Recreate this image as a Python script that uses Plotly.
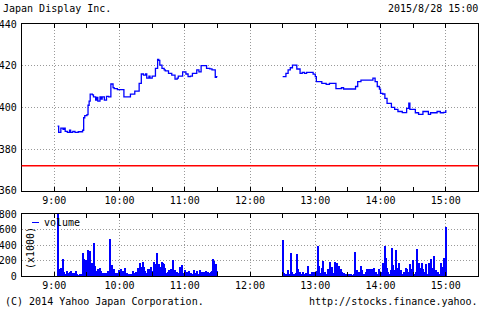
import plotly.graph_objects as go
import pandas as pd

DAY = "2015-08-28 "

# ---- price (step line), morning and afternoon sessions ----
am_times = ["09:03","09:04","09:06","09:08","09:09","09:10","09:12","09:14","09:15","09:17","09:19","09:22",
            "09:26","09:27","09:28","09:30","09:31","09:32","09:33","09:35","09:36","09:38","09:39","09:40",
            "09:42","09:43","09:44","09:46","09:48","09:50","09:52","09:54","09:55","09:58","10:04","10:10",
            "10:14","10:18","10:20","10:22","10:24","10:25","10:27","10:28","10:30","10:31","10:33","10:35",
            "10:36","10:37","10:39","10:41","10:42","10:45","10:48","10:51","10:53","10:54","10:58","11:00",
            "11:01","11:03","11:05","11:07","11:11","11:13","11:15","11:18","11:20","11:23","11:25","11:28",
            "11:29","11:30"]
am_price = [391,388,390,389.5,390,388.5,388,389,388,388.5,388,388.3,
            389,395,396,396.5,401,403,406.3,406,405,403.5,404.8,403,
            405,404,405,403.5,405.3,405,411.2,409.5,409,408.5,405,406.3,
            407.8,411.5,416,415.5,416,414,415,414,415,415,418.7,423,
            422.5,420.3,418.7,418,417.5,416.3,415.5,413.5,414,415,417,417,
            416,414.7,415,416.3,418,417,420,420,418.7,418.5,418,414.4,
            414.7,414.7]
pm_times = ["12:30","12:33","12:35","12:37","12:39","12:41","12:43","12:46","12:48","12:50","12:52","12:56",
            "12:58","13:00","13:01","13:04","13:06","13:10","13:13","13:17","13:19","13:24","13:26","13:34",
            "13:37","13:39","13:42","13:50","13:53","13:55","13:57","13:59","14:00","14:02","14:04","14:06",
            "14:10","14:13","14:16","14:20","14:24","14:26","14:27","14:32","14:35","14:39","14:44","14:46",
            "14:49","14:52","14:55","14:58","15:00"]
pm_price = [414.7,416.3,418,419,420.3,420.3,418.4,416.3,416.8,416.3,416.8,416.8,
            415.9,414.7,412.3,412.3,411.5,411,411.5,411.5,409,409.4,408.8,408.8,
            410,412.3,413.1,413.1,414,412.3,410,408.7,406.7,406.4,404.3,401.9,
            400,399,398,397.5,399.5,402,399,397.4,396.6,398,396.6,397.4,
            397.4,398,397.4,397.6,398.7]
prev_close = 372

# ---- volume (x1000) per minute ----
am_vol = [0,0,0,820,60,86,99,40,215,56,30,64,45,20,50,60,30,45,35,20,
          64,30,10,15,10,20,300,220,120,206,60,335,163,327,170,90,421,130,40,60,
          90,40,99,60,45,35,25,40,20,64,30,473,40,140,60,95,40,45,20,75,
          35,85,50,60,30,99,20,45,15,30,10,20,64,30,40,50,20,99,60,172,
          120,185,120,60,40,35,85,20,85,110,60,185,140,160,292,100,160,120,60,185,
          170,160,99,40,55,75,30,95,60,206,40,75,30,50,40,120,25,140,40,15,
          75,30,50,20,64,40,20,15,75,30,40,64,20,15,75,30,50,55,20,64,
          25,50,30,40,55,60,215,190,150,60]
pm_vol = [464,43,20,15,30,77,25,301,56,20,30,15,40,284,86,30,56,20,52,15,
          10,43,20,129,15,10,20,52,15,56,30,60,387,129,40,30,99,198,20,52,
          15,86,30,185,40,120,20,43,176,60,163,99,129,86,56,20,35,10,15,22,
          10,26,15,26,10,20,314,30,77,15,56,20,129,77,20,15,56,86,30,86,
          86,20,86,30,99,56,52,20,86,30,52,40,163,60,387,228,99,56,30,77,
          357,142,77,30,335,40,99,172,30,77,20,56,30,99,86,20,56,155,30,86,
          206,20,56,344,40,163,99,30,163,86,20,56,155,30,172,86,215,30,99,258,
          20,77,43,56,20,163,120,86,228,56,636]

x_ticks = ["09:00","10:00","11:00","12:00","13:00","14:00","15:00"]
x_tick_labels = ["9:00","10:00","11:00","12:00","13:00","14:00","15:00"]

price_x = [DAY + t for t in am_times] + [DAY + "12:00"] + [DAY + t for t in pm_times]
price_y = am_price + [None] + pm_price

vol_x = list(pd.date_range(DAY + "09:00", periods=len(am_vol), freq="min")) + \
        list(pd.date_range(DAY + "12:30", periods=len(pm_vol), freq="min"))
vol_y = am_vol + pm_vol

FONT = "DejaVu Sans Mono"
BLUE = "#0000ff"
GRID = "#999999"
GRID_DASH = "1px,2px"

fig = go.Figure()
fig.add_trace(go.Scatter(x=price_x, y=price_y, mode="lines", line=dict(color=BLUE, width=1.3, shape="hv"),
                         connectgaps=False, xaxis="x", yaxis="y", showlegend=False))
fig.add_trace(go.Bar(x=vol_x, y=vol_y, marker=dict(color=BLUE, line=dict(width=0)), width=60000,
                     xaxis="x2", yaxis="y2", showlegend=False))
fig.add_shape(type="line", xref="x domain", yref="y", x0=0, x1=1, y0=prev_close, y1=prev_close,
              line=dict(color="#ff0000", width=1.6))

xr = [DAY + "08:30", DAY + "15:30"]
common_x = dict(type="date", range=xr, tickvals=[DAY + t for t in x_ticks], ticktext=x_tick_labels,
                showline=True, linecolor="black", linewidth=1, mirror="ticks", ticks="inside", ticklen=4,
                tickcolor="black", showgrid=True, gridcolor=GRID, griddash=GRID_DASH, gridwidth=1,
                minor=dict(dtick=30*60*1000, ticks="inside", ticklen=4, tickcolor="black", showgrid=False),
                tickfont=dict(family=FONT, size=10, color="black"), zeroline=False, fixedrange=True,
                automargin=False)
common_y = dict(showline=True, linecolor="black", linewidth=1, mirror=True, ticks="",
                showgrid=True, gridcolor=GRID, griddash=GRID_DASH, gridwidth=1, zeroline=False,
                tickfont=dict(family=FONT, size=10, color="black"), ticklabelstandoff=2, automargin=False)

W, H = 480, 315
def px(v): return v / W
def py(v): return 1 - v / H

fig.update_layout(
    width=W, height=H, margin=dict(l=0, r=0, t=0, b=0, autoexpand=False),
    paper_bgcolor="white", plot_bgcolor="white", bargap=0,
    font=dict(family=FONT, size=10, color="black"),
    xaxis=dict(domain=[px(21.7), px(478.4)], anchor="y", **common_x),
    yaxis=dict(domain=[py(190.7), py(24)], anchor="x", range=[360, 440], dtick=20, **common_y),
    xaxis2=dict(domain=[px(21.7), px(478.4)], anchor="y2", **common_x),
    yaxis2=dict(domain=[py(276), py(214)], anchor="x2", range=[0, 800], dtick=200, **common_y),
)

fig.add_annotation(text="Japan Display Inc.", xref="paper", yref="paper", x=px(1), y=py(8),
                   xanchor="left", yanchor="middle", showarrow=False, font=dict(family=FONT, size=10))
fig.add_annotation(text="2015/8/28 15:00", xref="paper", yref="paper", x=px(480), y=py(8),
                   xanchor="right", yanchor="middle", showarrow=False, font=dict(family=FONT, size=10))
fig.add_annotation(text="(C) 2014 Yahoo Japan Corporation.", xref="paper", yref="paper", x=px(3), y=py(301),
                   xanchor="left", yanchor="middle", showarrow=False, font=dict(family=FONT, size=10))
fig.add_annotation(text="http://stocks.finance.yahoo.", xref="paper", yref="paper", x=px(480), y=py(301),
                   xanchor="right", yanchor="middle", showarrow=False, font=dict(family=FONT, size=10))
fig.add_annotation(text="(x1000)", xref="paper", yref="paper", x=px(30), y=py(248), textangle=-90,
                   xanchor="center", yanchor="middle", showarrow=False, font=dict(family=FONT, size=10))
fig.add_annotation(text="volume", xref="paper", yref="paper", x=px(42), y=py(222),
                   xanchor="left", yanchor="middle", showarrow=False, font=dict(family=FONT, size=10))
fig.add_shape(type="line", xref="paper", yref="paper", x0=px(32), x1=px(39), y0=py(222.5), y1=py(222.5),
              line=dict(color=BLUE, width=1))

fig.write_html("out.html")
